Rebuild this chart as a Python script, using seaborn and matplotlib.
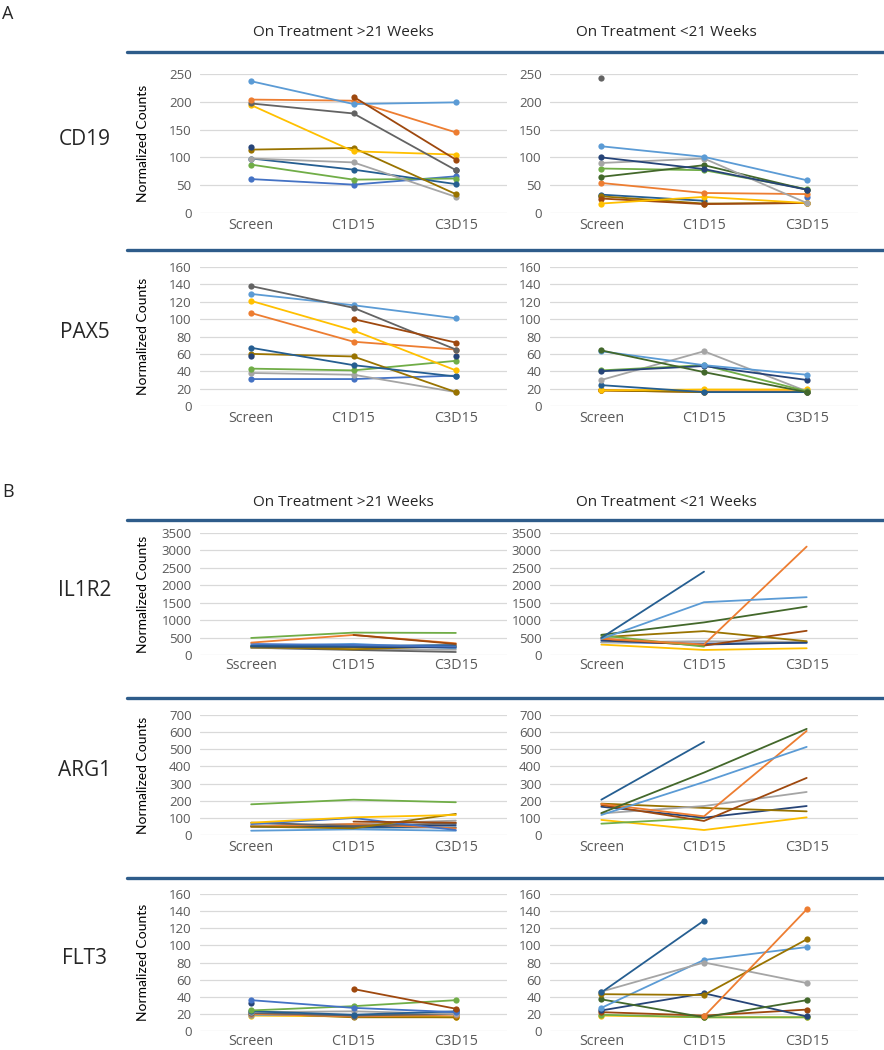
import numpy as np
import pandas as pd
import matplotlib
matplotlib.use("Agg")
import matplotlib.pyplot as plt
import seaborn as sns

nan = np.nan

visits = ["Screen", "C1D15", "C3D15"]
visits_typo = ["Sscreen", "C1D15", "C3D15"]   # as printed on the IL1R2 >21 wk panel

# Excel-style series colours
colors = {
    "lb": "#5B9BD5", "or": "#ED7D31", "lg": "#A5A5A5", "ye": "#FFC000",
    "bl": "#4472C4", "gr": "#70AD47", "db": "#255E91", "br": "#9E480E",
    "dg": "#636363", "ol": "#997300", "nv": "#264478", "dgr": "#43682B",
}

# ---- panel A : values per patient (Screen, C1D15, C3D15), nan = missing
cd19_long = {
    "bl": [61, 51, 66], "gr": [87, 60, 62], "db": [98, 78, 52],
    "lg": [98, 91, 29], "ol": [114, 117, 34], "nv": [119, nan, 77],
    "ye": [194, 111, 105], "dg": [197, 179, 77], "or": [204, 202, 145],
    "lb": [237, 196, 199], "br": [nan, 209, 96],
}
cd19_short = {
    "dg": [243, nan, nan], "bl": [30, nan, 29], "db": [33, 22, nan],
    "ol": [30, 17, 18], "br": [26, 16, 18], "ye": [17, 29, 18],
    "or": [54, 36, 34], "gr": [80, 77, 43], "dgr": [65, 86, 42],
    "lg": [90, 98, 18], "nv": [100, 79, 42], "lb": [120, 101, 59],
}
pax5_long = {
    "bl": [31, 31, 35], "lg": [38, 36, 16], "gr": [43, 41, 52],
    "ol": [60, 57, 16], "nv": [58, nan, 58], "db": [67, 47, 34],
    "or": [107, 74, 65], "ye": [121, 87, 41], "lb": [129, 116, 101],
    "dg": [138, 113, 65], "br": [nan, 100, 73],
}
pax5_short = {
    "or": [18, 17, 17], "br": [18, 16, 16], "ol": [18, 16, 16],
    "ye": [18, 19, 19], "db": [24, 16, 16], "lg": [30, 63, 17],
    "gr": [41, 47, 17], "nv": [40, 46, 30], "lb": [63, 47, 36],
    "dgr": [64, 39, 16],
}

# ---- panel B
il1r2_long = {
    "lb": [260, 320, 190], "lg": [200, 172, 150], "dg": [211, 144, 86],
    "ye": [220, 211, 250], "ol": [240, 163, 259], "nv": [240, 230, 220],
    "db": [268, 259, 288], "bl": [316, 288, 240], "or": [355, 575, 335],
    "br": [nan, 575, 316], "gr": [489, 642, 633],
}
il1r2_short = {
    "ye": [299, 145, 193], "bl": [366, 330, 350], "lg": [366, 395, 376],
    "nv": [415, 299, 357], "br": [463, 270, 694], "ol": [511, 685, 395],
    "gr": [560, 240, nan], "dgr": [579, 935, 1389], "or": [470, 300, 3110],
    "lb": [463, 1514, 1659], "db": [492, 2391, nan],
}
arg1_long = {
    "lb": [25, 33, 25], "db": [49, 43, 45], "nv": [53, 49, 58],
    "lg": [56, 64, 84], "or": [49, 64, 39], "dg": [72, 53, 68],
    "bl": [64, 99, 29], "ol": [49, 39, 123], "ye": [72, 103, 117],
    "br": [nan, 78, 72], "gr": [179, 206, 191],
}
arg1_short = {
    "ye": [88, 29, 103], "gr": [66, 99, nan], "nv": [165, 101, 169],
    "ol": [183, 158, 138], "lg": [126, 169, 251], "br": [175, 82, 333],
    "or": [181, 109, 607], "lb": [117, 309, 514], "dgr": [128, 364, 619],
    "db": [206, 543, nan],
}
flt3_long = {
    "ye": [18, 17, 16], "ol": [21, 16, 16], "lb": [19, 18, 21],
    "or": [20, 17, 19], "dg": [21, 18, 20], "lg": [22, 23, 20],
    "db": [23, 19, 23], "gr": [24, 29, 36], "nv": [33, nan, 25],
    "bl": [36, 27, 22], "br": [nan, 49, 26],
}
flt3_short = {
    "ye": [18, 16, 16], "gr": [19, 16, 16], "br": [22, 18, 25],
    "nv": [24, 44, 17], "dgr": [37, 16, 36], "lb": [27, 83, 98],
    "lg": [46, 80, 56], "ol": [43, 42, 107], "or": [nan, 17, 142],
    "db": [45, 129, nan],
}


def long_form(table):
    # one row per measured point; a gap (nan) starts a new line segment
    rows = []
    for name, vals in table.items():
        seg = 0
        for i, v in enumerate(vals):
            if np.isnan(v):
                seg += 1
                continue
            rows.append({"visit": i, "value": v, "series": name, "seg": f"{name}_{seg}"})
    return pd.DataFrame(rows)


sns.set_style("white")
plt.rcParams["font.family"] = ["Open Sans", "DejaVu Sans"]

W, H = 884, 1050
fig = plt.figure(figsize=(W / 100, H / 100), dpi=100)


def px_axes(x0, x1, ytop, ybot):
    return fig.add_axes([x0 / W, 1 - ybot / H, (x1 - x0) / W, (ybot - ytop) / H])


# layout: (gene, long table, short table, top px, bottom px, ymax, step, markers, long labels, xpad)
rows = [
    ("CD19", cd19_long, cd19_short, 74, 213, 250, 50, True, visits, 3.5),
    ("PAX5", pax5_long, pax5_short, 267, 406, 160, 20, True, visits, 3.5),
    ("IL1R2", il1r2_long, il1r2_short, 533, 655, 3500, 500, False, visits_typo, 2.5),
    ("ARG1", arg1_long, arg1_short, 715, 835, 700, 100, False, visits, 3.5),
    ("FLT3", flt3_long, flt3_short, 894, 1031, 160, 20, True, visits, 2.2),
]

for gene, tl, ts, ytop, ybot, ymax, step, mk, lab_long, xpad in rows:
    for col, (table, labels, xs) in enumerate([(tl, lab_long, (200, 507)),
                                                (ts, visits, (550, 858))]):
        ax = px_axes(xs[0], xs[1], ytop, ybot)
        df = long_form(table)
        sns.lineplot(data=df, x="visit", y="value", hue="series", units="seg",
                     estimator=None, sort=False, palette=colors, legend=False,
                     marker="o" if mk else None, markersize=4.5,
                     markeredgewidth=0, linewidth=1.3, ax=ax)
        ax.set_xlim(-0.5, 2.5)
        ax.set_ylim(0, ymax)
        ax.set_yticks(np.arange(0, ymax + 1, step))
        ax.set_xticks(range(len(labels)))
        ax.set_xticklabels(labels, fontsize=10.3, color="#595959")
        ax.tick_params(axis="y", labelsize=9.5, labelcolor="#595959", length=0, pad=6)
        ax.tick_params(axis="x", length=0, pad=xpad)
        ax.grid(axis="y", color="#D9D9D9", linewidth=0.9)
        ax.set_axisbelow(True)
        for s in ax.spines.values():
            s.set_visible(False)
        ax.set_xlabel("")
        if col == 0:
            ax.set_ylabel("Normalized Counts", fontsize=10, color="black",
                          family=["Lato", "DejaVu Sans"])
            ax.yaxis.set_label_coords(-0.165, 0.5)
        else:
            ax.set_ylabel("")
    fig.text(85 / W, 1 - ((ytop + ybot) / 2 - 4) / H, gene, fontsize=15,
             ha="center", va="center")

# section headers and blue rules
for letter, ly, hy in [("A", 14, 32), ("B", 492, 503)]:
    fig.text(2 / W, 1 - ly / H, letter, fontsize=13, ha="left", va="center")
    fig.text(343 / W, 1 - hy / H, "On Treatment >21 Weeks", fontsize=11,
             ha="center", va="center")
    fig.text(666 / W, 1 - hy / H, "On Treatment <21 Weeks", fontsize=11,
             ha="center", va="center")

for y in [52, 250, 520, 698, 878]:
    fig.add_artist(plt.Line2D([127 / W, 1.0], [1 - y / H, 1 - y / H],
                              color="#2E5C8A", linewidth=2.4))

plt.savefig("out.png", dpi=100)
